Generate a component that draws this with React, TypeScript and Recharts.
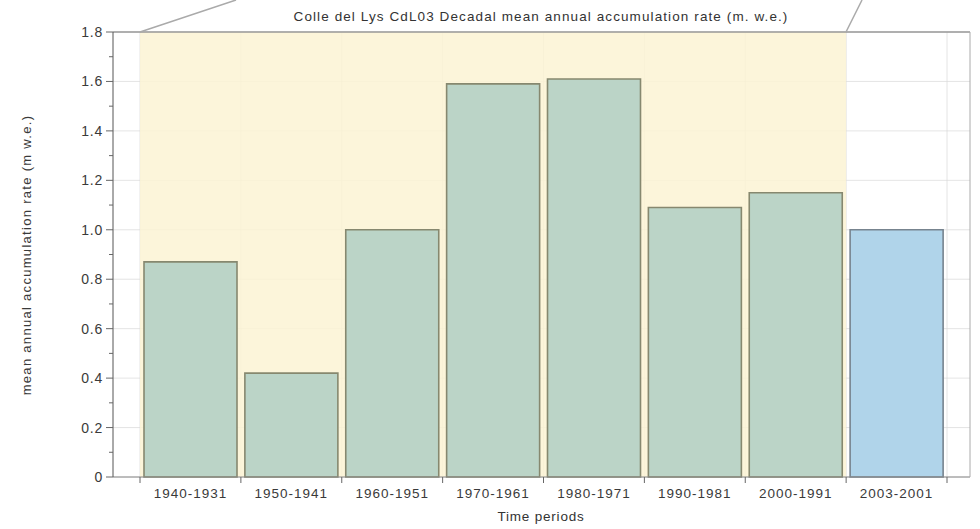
import React from 'react';
import { BarChart, Bar, XAxis, YAxis, CartesianGrid, ReferenceArea, ReferenceLine, Cell } from 'recharts';

const periods = ['1940-1931', '1950-1941', '1960-1951', '1970-1961', '1980-1971', '1990-1981', '2000-1991', '2003-2001'];
const rates = [0.87, 0.42, 1.0, 1.59, 1.61, 1.09, 1.15, 1.0];
const partial = [false, false, false, false, false, false, false, true];
const yTickValues = [0, 0.1, 0.2, 0.3, 0.4, 0.5, 0.6, 0.7, 0.8, 0.9, 1.0, 1.1, 1.2, 1.3, 1.4, 1.5, 1.6, 1.7, 1.8];
const yMajorTicks = [0, 0.2, 0.4, 0.6, 0.8, 1.0, 1.2, 1.4, 1.6, 1.8];

const title = 'Colle del Lys CdL03 Decadal mean annual accumulation rate (m. w.e.)';
const yLabel = 'mean annual accumulation rate (m w.e.)';
const xLabel = 'Time periods';

const data = periods.map((p, i) => ({ period: p, value: rates[i], partial: partial[i] }));

const W = 980;
const H = 529;
const M = { top: 32, right: 0, bottom: 0, left: 0 };
const Y_W = 113;
const R_W = 10;
const X_H = 52;
const PAD_L = 27;
const PAD_R = 23;
const FONT = '"Liberation Sans", Arial, sans-serif';

const isMajor = (v: number) => yMajorTicks.some((m) => Math.abs(m - v) < 1e-6);

const YTick = (props: any) => {
  const { x, y, payload } = props;
  const v = payload.value as number;
  const major = isMajor(v);
  return (
    <g>
      <line x1={x - (major ? 7 : 4)} x2={x} y1={y} y2={y} stroke="#666" strokeWidth={1} />
      {major && (
        <text x={x - 10} y={y} dy={5} textAnchor="end" fontSize={14} letterSpacing={0.8} fill="#3a3a3a" fontFamily={FONT}>
          {v === 0 ? '0' : v.toFixed(1)}
        </text>
      )}
    </g>
  );
};

const XTick = (props: any) => {
  const { x, y, payload, index } = props;
  const half = payload && typeof payload.offset === 'number' && payload.offset > 0 ? payload.offset : 50.5;
  return (
    <g>
      <line x1={x - half} x2={x - half} y1={y} y2={y + 6} stroke="#666" />
      {index === periods.length - 1 && <line x1={x + half} x2={x + half} y1={y} y2={y + 6} stroke="#666" />}
      <text x={x} y={y + 21} textAnchor="middle" fontSize={13.5} letterSpacing={1} fill="#3a3a3a" fontFamily={FONT}>
        {payload.value}
      </text>
    </g>
  );
};

const verticalGen = ({ offset }: any) => {
  const band = (offset.width - PAD_L - PAD_R) / periods.length;
  const xs: number[] = [];
  for (let i = 0; i <= periods.length; i++) xs.push(offset.left + PAD_L + band * i);
  return xs;
};

export default function App() {
  return (
    <div style={{ position: 'absolute', left: 0, top: 0, width: W, height: H, background: '#fff' }}>
      <BarChart width={W} height={H} data={data} margin={M} barCategoryGap={4}>
        <ReferenceArea
          x1={periods[0]}
          x2={periods[6]}
          y1={0}
          y2={1.8}
          fill="#FBF3D3"
          fillOpacity={0.85}
          stroke="none"
          yAxisId="left"
        />
        <CartesianGrid
          yAxisId="left"
          stroke="#d9d9d9"
          strokeOpacity={0.7}
          horizontalValues={yMajorTicks}
          verticalCoordinatesGenerator={verticalGen}
        />
        <XAxis
          dataKey="period"
          height={X_H}
          padding={{ left: PAD_L, right: PAD_R }}
          tick={<XTick />}
          tickLine={false}
          tickSize={0}
          tickMargin={0}
          axisLine={{ stroke: '#888' }}
          interval={0}
        />
        <YAxis
          yAxisId="left"
          width={Y_W}
          domain={[0, 1.8]}
          ticks={yTickValues}
          interval={0}
          tick={<YTick />}
          tickLine={false}
          tickSize={0}
          tickMargin={0}
          axisLine={{ stroke: '#555' }}
        />
        <YAxis
          yAxisId="right"
          orientation="right"
          width={R_W}
          domain={[0, 1.8]}
          tick={false}
          tickLine={false}
          axisLine={{ stroke: '#aaa' }}
        />
        <ReferenceLine yAxisId="left" y={1.8} stroke="#999" strokeWidth={1.5} />
        <Bar dataKey="value" yAxisId="left" isAnimationActive={false} strokeWidth={1.6}>
          {data.map((d, i) => (
            <Cell
              key={i}
              fill={d.partial ? '#B0D4EA' : '#BBD4C7'}
              stroke={d.partial ? '#77848f' : '#86886f'}
            />
          ))}
        </Bar>
      </BarChart>
      <svg width={W} height={H} style={{ position: 'absolute', left: 0, top: 0, pointerEvents: 'none' }}>
        <line x1={140} y1={32} x2={236} y2={0} stroke="#aaa" strokeWidth={1.5} />
        <line x1={846} y1={32} x2={862} y2={0} stroke="#aaa" strokeWidth={1.5} />
        <text x={541} y={21} textAnchor="middle" fontSize={13.5} letterSpacing={1.1} fill="#333" fontFamily={FONT}>
          {title}
        </text>
        <text
          x={31}
          y={255}
          textAnchor="middle"
          fontSize={13}
          letterSpacing={1.3}
          fill="#3a3a3a"
          fontFamily={FONT}
          transform="rotate(-90 31 255)"
        >
          {yLabel}
        </text>
        <text x={541} y={521} textAnchor="middle" fontSize={13.5} letterSpacing={0.8} fill="#333" fontFamily={FONT}>
          {xLabel}
        </text>
      </svg>
    </div>
  );
}
